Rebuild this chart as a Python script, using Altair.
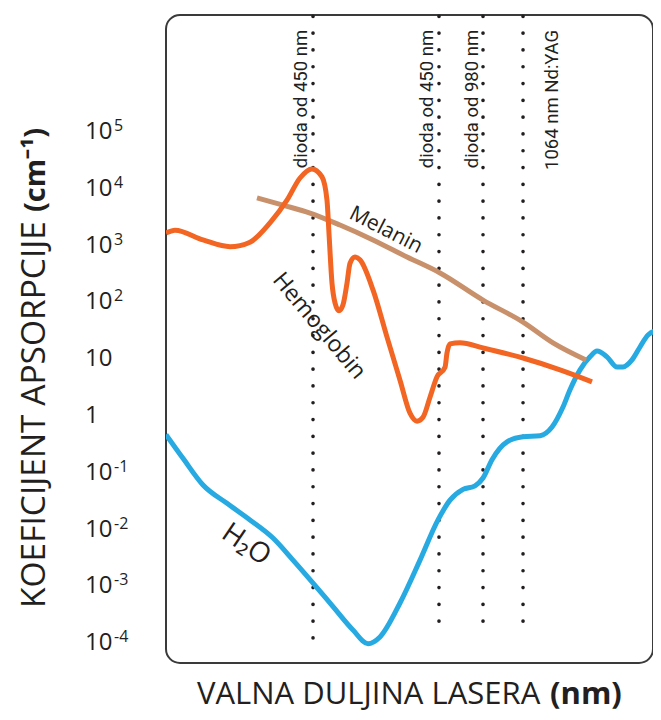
import altair as alt
import pandas as pd

# ---------------- data ----------------
# y axis decades (absorption coefficient, cm^-1)
decade_value = [1e5, 1e4, 1e3, 1e2, 1e1, 1e0, 1e-1, 1e-2, 1e-3, 1e-4]
decade_base = ["10", "10", "10", "10", "10", "1", "10", "10", "10", "10"]
decade_sup = ["5", "4", "3", "2", "", "", "-1", "-2", "-3", "-4"]

# x = relative wavelength position (0 = left edge of frame, no numeric scale shown)
hb_x = [0.0, 1.82, 7.49, 12.96, 17.0, 21.05, 24.49, 27.13, 29.55, 31.58, 32.59, 32.99,
        33.6, 34.21, 35.02, 35.83, 36.64, 37.25, 38.26, 39.27, 41.9, 44.74, 47.37,
        49.39, 50.81, 52.02, 53.44, 54.86, 56.48, 56.88, 57.49, 59.51, 64.17, 72.27,
        79.76, 86.23]
hb_y = [1660, 1860, 1260, 955, 1150, 2510, 6310, 15500, 22400, 16200, 6310, 1660,
        219, 98, 71, 91, 219, 490, 631, 562, 166, 24.5, 4.27,
        1.12, 0.81, 0.95, 2.14, 4.9, 7.2, 12.9, 18.6, 19.5, 15.8, 10.5,
        6.5, 4.0]

mel_x = [18.42, 23.68, 29.15, 35.22, 41.9, 48.79, 55.47, 64.17, 72.27, 78.34, 85.02]
mel_y = [6900, 5150, 3740, 2300, 1260, 630, 330, 110, 45, 19.4, 9.7]

h2o_x = [0.0, 3.44, 7.49, 12.35, 17.0, 21.66, 25.71, 29.55, 33.81, 37.85, 40.89, 43.32,
         47.37, 51.42, 55.06, 57.49, 60.12, 62.55, 64.17, 65.99, 69.03, 72.27, 75.71,
         78.14, 80.36, 81.78, 83.81, 85.83, 87.25, 89.27, 91.3, 92.51, 94.33, 95.95,
         97.57, 99.39, 100.0]
h2o_y = [0.47, 0.18, 0.061, 0.029, 0.0148, 0.0071, 0.0029, 0.0012, 0.00044, 0.00017,
         0.000098, 0.000129, 0.00051, 0.0029, 0.0148, 0.033, 0.051, 0.059, 0.081, 0.17,
         0.35, 0.43, 0.45, 0.64, 1.44, 2.9, 6.5, 11.0, 13.9, 11.0, 7.3, 7.3, 9.7, 16.4,
         26.7, 31.6, 31.6]

laser_x = [29.76, 55.26, 64.17, 72.27]
laser_top = [1.09e7, 1.09e7, 1.09e7, 1.09e7]
laser_bottom = [7.6e-5, 1.29e-4, 1.29e-4, 1.29e-4]
laser_label = ["dioda od 450 nm", "dioda od 450 nm", "dioda od 980 nm", "1064 nm Nd:YAG"]
laser_label_x = [28.54, 54.05, 63.16, 79.35]
laser_label_y = [6.3e6, 6.3e6, 6.3e6, 6.3e6]

curve_label = ["Melanin", "Hemoglobin", "H\u2082O"]
curve_label_x = [44.5, 31.0, 16.2]
curve_label_y = [1860, 38.5, 0.00537]
curve_label_angle = [27, 50, 34]
curve_label_size = [21, 23, 28]

# ---------------- style ----------------
W, H = 487, 648
TXT = "#231f20"
FONT = "Open Sans"

xs = alt.X("x:Q", scale=alt.Scale(domain=[0, 98.58], nice=False, zero=False), axis=None)
ys = alt.Y("y:Q", scale=alt.Scale(type="log", domain=[4.48e-5, 1.148e7], nice=False), axis=None)


def curve(xv, yv, color):
    df = pd.DataFrame({"x": xv, "y": yv})
    return alt.Chart(df).mark_line(color=color, strokeWidth=5, interpolate="monotone",
                                   clip=True, strokeCap="butt").encode(x=xs, y=ys)


rules = alt.Chart(pd.DataFrame({"x": laser_x, "y": laser_top, "y2": laser_bottom})).mark_rule(
    color=TXT, strokeWidth=3.6, strokeDash=[0.1, 16.7], strokeCap="round"
).encode(x=xs, y=ys, y2="y2:Q")

laser_text = alt.Chart(pd.DataFrame({"x": laser_label_x, "y": laser_label_y, "t": laser_label})).mark_text(
    angle=270, align="right", baseline="alphabetic", font="Roboto", fontSize=18.5, color=TXT
).encode(x=xs, y=ys, text="t:N")

ann = []
for t, x, y, a, s in zip(curve_label, curve_label_x, curve_label_y, curve_label_angle, curve_label_size):
    ann.append(alt.Chart(pd.DataFrame({"x": [x], "y": [y], "t": [t]})).mark_text(
        angle=a, align="center", baseline="middle", font=FONT, fontSize=s, color=TXT
    ).encode(x=xs, y=ys, text="t:N"))

ticks_df = pd.DataFrame({"y": decade_value, "base": decade_base, "sup": decade_sup})
tick_base = alt.Chart(ticks_df).mark_text(
    align="left", baseline="middle", font=FONT, fontSize=24, color=TXT
).encode(x=alt.value(-81), y=ys, text="base:N")
tick_sup = alt.Chart(ticks_df).mark_text(
    align="left", baseline="alphabetic", font=FONT, fontSize=16, color=TXT, dy=-1
).encode(x=alt.value(-52), y=ys, text="sup:N")

one = pd.DataFrame({"a": [0]})
xtitle1 = alt.Chart(one).mark_text(align="left", baseline="alphabetic", font=FONT, fontSize=31,
                                   fontWeight=400, color=TXT, text="VALNA DULJINA LASERA").encode(
    x=alt.value(31), y=alt.value(689))
xtitle2 = alt.Chart(one).mark_text(align="left", baseline="alphabetic", font=FONT, fontSize=31,
                                   fontWeight="bold", color=TXT, text="(nm)").encode(
    x=alt.value(384), y=alt.value(689))
ytitle1 = alt.Chart(one).mark_text(angle=270, align="left", baseline="alphabetic", font=FONT, fontSize=33.5,
                                   fontWeight=400, color=TXT, text="KOEFICIJENT APSORPCIJE").encode(
    x=alt.value(-121), y=alt.value(593))
ytitle2 = alt.Chart(one).mark_text(angle=270, align="right", baseline="alphabetic", font=FONT, fontSize=29,
                                   fontWeight="bold", color=TXT, text="(cm\u207b\u00b9)").encode(
    x=alt.value(-121), y=alt.value(113))

chart = alt.layer(
    rules,
    curve(h2o_x, h2o_y, "#27a9e1"),
    curve(mel_x, mel_y, "#c8916b"),
    curve(hb_x, hb_y, "#f26522"),
    laser_text, *ann, tick_base, tick_sup, xtitle1, xtitle2, ytitle1, ytitle2,
).properties(
    width=W, height=H,
    padding={"left": 158, "top": 7, "right": 0, "bottom": 49},
    autosize=alt.AutoSizeParams(type="none"),
).configure_view(
    stroke="#3a3a3a", strokeWidth=2, cornerRadius=14
)

chart.save("out.html", embed_options={"renderer": "svg", "actions": False})
